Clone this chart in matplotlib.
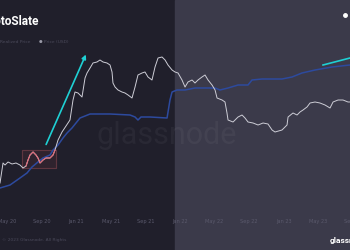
import matplotlib as m
m.use("Agg")
import matplotlib.pyplot as plt

# time axis: months after May 2020, value axis: chart height units
price_t = [-0.81, -0.46, -0.23, 0.12, 0.58, 1.04, 1.50, 1.85, 2.20, 2.43, 2.66, 3.01,
           3.35, 3.58, 3.82, 4.16, 4.51, 4.97, 5.32, 5.55, 5.90, 6.36, 6.82, 7.28,
           7.63, 7.86, 8.21, 8.67, 9.02, 9.25, 9.60, 9.94, 10.40, 10.75, 11.10, 11.56,
           11.91, 12.14, 12.25, 12.49, 12.83, 13.29, 13.64, 13.99, 14.45, 14.80, 15.14,
           15.61, 15.95, 16.30, 16.76, 17.11, 17.46, 17.92, 18.27, 18.61, 19.08, 19.42,
           19.77, 20.23, 20.58, 20.92, 21.39, 21.73, 22.08, 22.54, 22.89, 23.24, 23.70,
           24.05, 24.28, 24.86, 25.20, 25.43, 25.55, 26.13, 26.71, 27.17, 27.51, 27.86,
           28.44, 29.02, 29.60, 30.17, 30.64, 30.98, 31.79, 32.37, 32.49, 33.06, 33.53,
           33.87, 34.22, 34.68, 35.03, 35.61, 36.18, 36.76, 37.34, 37.69, 38.27, 38.84,
           39.42, 39.88]
price_v = [67, 87, 85, 88, 86, 87, 85, 82, 84, 90, 95, 98,
           95, 92, 87, 90, 92, 92, 95, 100, 110, 118, 124, 130,
           150, 158, 157, 153, 172, 177, 182, 187, 188, 190, 188, 187,
           185, 178, 167, 163, 160, 158, 157, 155, 152, 163, 175,
           177, 178, 173, 170, 183, 192, 193, 190, 185, 180, 178,
           177, 170, 163, 168, 170, 167, 170, 173, 175, 170, 165,
           160, 152, 150, 148, 137, 130, 128, 133, 135, 132, 128,
           127, 125, 127, 126, 120, 118, 120, 125, 133, 137, 135,
           138, 140, 143, 147, 148, 147, 145, 142, 148, 150, 150,
           148, 148]

real_t = [-0.81, 0.35, 1.50, 2.31, 2.89, 3.58, 4.16, 4.97, 5.32, 5.90, 6.47, 6.94,
          7.51, 8.44, 9.60, 11.91, 14.22, 14.80, 15.14, 15.49, 16.53, 18.50, 18.84,
          19.08, 19.65, 20.58, 21.73, 24.05, 24.62, 25.55, 26.71, 27.86, 28.32, 29.48,
          31.79, 32.95, 34.10, 35.61, 37.57, 39.65]
real_v = [62, 65, 72, 77, 83, 88, 92, 95, 100, 105, 112, 117,
          122, 132, 136, 136, 135, 133, 130, 133, 133, 132, 150,
          158, 160, 160, 162, 162, 160, 162, 165, 165, 170, 171,
          171, 173, 177, 180, 183, 185]

tick_pos = [0, 4, 8, 12, 16, 20, 24, 28, 32, 36, 40]
tick_lab = ["May 20", "Sep 20", "Jan 21", "May 21", "Sep 21", "Jan 22",
            "May 22", "Sep 22", "Jan 23", "May 23", "Sep 23"]

box_t = [1.73, 5.66]
box_v = [82, 100]
arrow1 = [(4.39, 103), (9.25, 198)]
arrow2 = [(36.53, 185), (39.65, 192)]
split_t = 19.42

fig = plt.figure(figsize=(3.5, 2.5), dpi=100)
fig.patch.set_facecolor("#201f2b")
ax = fig.add_axes([0, 0, 1, 1])
ax.set_facecolor("#201f2b")
ax.set_xlim(-0.81, 39.65)
ax.set_ylim(0, 250)
ax.axis("off")

ax.axvspan(split_t, 39.65, color="#3b3a4a", zorder=0)

# watermark
ax.text(0.475, 0.46, "glassnode", transform=ax.transAxes, ha="center", va="center",
        fontsize=22, family="Roboto", color="white", alpha=0.045, zorder=1)

# highlight box
ax.fill_between(box_t, box_v[0], box_v[1], color="#8a3a45", alpha=0.15, zorder=2)
ax.plot([box_t[0], box_t[1], box_t[1], box_t[0], box_t[0]],
        [box_v[0], box_v[0], box_v[1], box_v[1], box_v[0]],
        color="#5e3640", lw=0.8, zorder=2)

ax.plot(real_t, real_v, color="#2d4a9e", lw=1.1, zorder=3)
ax.plot(price_t, price_v, color="#cdcdd6", lw=0.7, zorder=4)
red_t = [t for t in price_t if box_t[0] + 0.4 <= t <= box_t[1] - 0.1]
red_v = [v for t, v in zip(price_t, price_v) if box_t[0] + 0.4 <= t <= box_t[1] - 0.1]
ax.plot(red_t, red_v, color="#e26a78", lw=0.8, zorder=5)

ax.annotate("", xy=arrow1[1], xytext=arrow1[0],
            arrowprops=dict(arrowstyle="-|>", color="#1fd0d4", lw=1.2,
                            mutation_scale=6), zorder=6)
ax.plot([arrow2[0][0], arrow2[1][0]], [arrow2[0][1], arrow2[1][1]],
        color="#1fd0d4", lw=1.2, zorder=6)

ax.plot([39.08], [235], "o", color="white", ms=2.5, zorder=6)

for p, lab in zip(tick_pos, tick_lab):
    ax.text(p, 28, lab, ha="center", va="center", fontsize=3.6, color="#5a596c")

# header and footer texts
fig.text(0.111, 0.916, "CryptoSlate", ha="right", va="center", fontsize=8.6,
         fontweight="bold", family="Roboto", color="white")
fig.text(0.086, 0.832, "Realized Price", ha="right", va="center", fontsize=3.2,
         color="#4a495a")
fig.text(0.117, 0.832, "\u25cf", ha="center", va="center", fontsize=3, color="#9a9aa8")
fig.text(0.127, 0.832, "Price (USD)", ha="left", va="center", fontsize=3.2,
         color="#4a495a")
fig.text(0.005, 0.04, "\u00a9 2023 Glassnode. All Rights", ha="left", va="center",
         fontsize=3.2, color="#4a495a")
fig.text(0.943, 0.04, "glassnode", ha="left", va="center", fontsize=6,
         fontweight="bold", family="Roboto", color="white")

fig.savefig("out.png", dpi=100, facecolor=fig.get_facecolor())
